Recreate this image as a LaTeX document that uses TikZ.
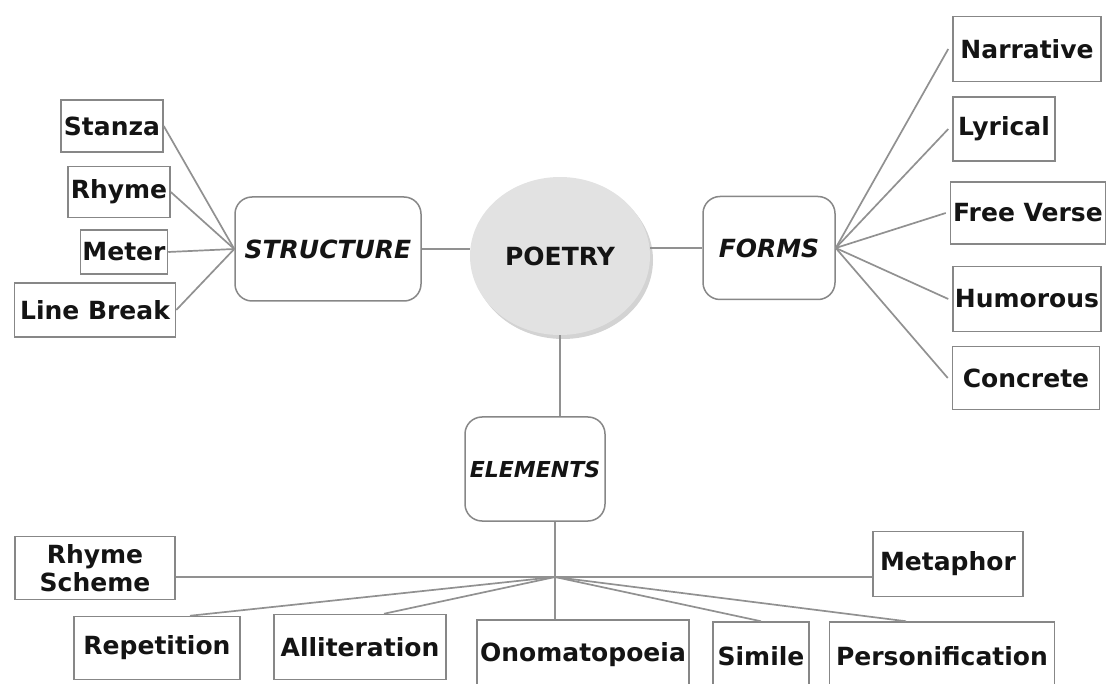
\documentclass[tikz,border=0pt]{standalone}
\usepackage{fontspec}
\setmainfont{DejaVu Sans}
\usetikzlibrary{shadows,shapes.geometric}
\definecolor{boxgray}{RGB}{135,135,135}
\definecolor{linegray}{RGB}{145,145,145}
\definecolor{txtgray}{RGB}{20,20,20}
\definecolor{hubfill}{RGB}{226,226,226}
\tikzset{
  leaf/.style={draw=boxgray, line width=1.5pt, fill=white, text=txtgray, inner sep=1pt,
    font=\fontsize{25}{28}\selectfont\bfseries},
  group/.style={leaf, rounded corners=17pt, font=\fontsize{25}{28}\selectfont\bfseries\itshape},
  link/.style={draw=linegray, line width=1.7pt}
}
\begin{document}
\begin{tikzpicture}[x=1pt,y=-1pt]
\useasboundingbox (0,0) rectangle (1106,684);
% centre
\node[ellipse, fill=hubfill, minimum width=180pt, minimum height=158pt, text=txtgray,
  font=\fontsize{25}{28}\selectfont\bfseries,
  drop shadow={opacity=0.35, shadow xshift=3pt, shadow yshift=-4pt}] (poetry) at (560,256) {POETRY};
\node[group, minimum width=186pt, minimum height=104pt] (structure) at (328,249) {STRUCTURE};
\node[group, minimum width=132pt, minimum height=103pt] (forms) at (769,248) {FORMS};
\node[group, minimum width=140pt, minimum height=104pt, inner sep=0pt,
  font=\fontsize{22}{26}\selectfont\bfseries\itshape] (elements) at (535,469) {ELEMENTS};
% structure
\node[leaf, minimum width=102pt, minimum height=52pt] (stanza) at (112,126) {Stanza};
\node[leaf, minimum width=102pt, minimum height=51pt] (rhyme) at (119,192) {Rhyme};
\node[leaf, minimum width=87pt, minimum height=44pt] (meter) at (124,252) {Meter};
\node[leaf, minimum width=161pt, minimum height=54pt] (linebreak) at (95,310) {Line Break};
% forms
\node[leaf, minimum width=148pt, minimum height=65pt] (narrative) at (1027,49) {Narrative};
\node[leaf, minimum width=102pt, minimum height=64pt] (lyrical) at (1004,129) {Lyrical};
\node[leaf, minimum width=155pt, minimum height=62pt] (freeverse) at (1028,213) {Free Verse};
\node[leaf, minimum width=148pt, minimum height=65pt] (humorous) at (1027,299) {Humorous};
\node[leaf, minimum width=147pt, minimum height=63pt] (concrete) at (1026,378) {Concrete};
% elements
\coordinate (hub) at (555,577);
\node[leaf, align=center, minimum width=160pt, minimum height=63pt] (rhymescheme) at (95,568) {Rhyme\\Scheme};
\node[leaf, minimum width=150pt, minimum height=65pt] (metaphor) at (948,564) {Metaphor};
\node[leaf, minimum width=166pt, minimum height=63pt] (repetition) at (157,648) {Repetition};
\node[leaf, minimum width=172pt, minimum height=65pt] (alliteration) at (360,647) {Alliteration};
\node[leaf, minimum width=212pt, minimum height=70pt] (onomatopoeia) at (583,655) {Onomatopoeia};
\node[leaf, minimum width=96pt, minimum height=68pt] (simile) at (761,656) {Simile};
\node[leaf, minimum width=225pt, minimum height=68pt] (personification) at (942,656) {Personification};
% links
\draw[link] (structure.east) -- (structure.east -| poetry.west);
\draw[link] (forms.west -| poetry.east) -- (forms.west);
\draw[link] (poetry.south) -- (poetry.south |- elements.north);
\foreach \n in {stanza,rhyme,meter,linebreak}
  \draw[link] (\n.east) -- (structure.west);
\foreach \n in {narrative,lyrical,freeverse,humorous,concrete}
  \draw[link] (forms.east) -- ([xshift=-4pt]\n.west);
\draw[link] (hub |- elements.south) -- (hub |- onomatopoeia.north);
\draw[link] (rhymescheme.east |- hub) -- (metaphor.west |- hub);
\draw[link] (hub) -- ([xshift=33pt]repetition.north);
\draw[link] (hub) -- ([xshift=24pt]alliteration.north);
\draw[link] (hub) -- (simile.north);
\draw[link] (hub) -- ([xshift=-36pt]personification.north);
\end{tikzpicture}
\end{document}
